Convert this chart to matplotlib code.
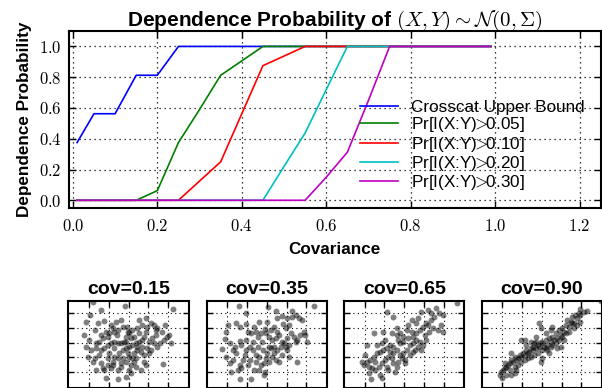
import matplotlib
matplotlib.use("Agg")
import matplotlib.pyplot as plt
from matplotlib.ticker import FuncFormatter, FixedLocator

plt.rcParams['font.family'] = ['Liberation Sans', 'DejaVu Sans']
plt.rcParams['mathtext.fontset'] = 'cm'

# ---------------- main chart data ----------------
covariance = [0.01, 0.05, 0.10, 0.15, 0.20, 0.25, 0.30, 0.35, 0.40, 0.45, 0.50,
              0.55, 0.60, 0.65, 0.70, 0.75, 0.80, 0.85, 0.90, 0.95, 0.99]
upper_bound = [0.375, 0.5625, 0.5625, 0.8125, 0.8125, 1, 1, 1, 1, 1, 1,
               1, 1, 1, 1, 1, 1, 1, 1, 1, 1]
pr_005 = [0, 0, 0, 0, 0.0625, 0.375, 0.59, 0.8125, 0.906, 1, 1,
          1, 1, 1, 1, 1, 1, 1, 1, 1, 1]
pr_010 = [0, 0, 0, 0, 0, 0, 0.125, 0.25, 0.5625, 0.875, 0.9375,
          1, 1, 1, 1, 1, 1, 1, 1, 1, 1]
pr_020 = [0, 0, 0, 0, 0, 0, 0, 0, 0, 0, 0.22,
          0.4375, 0.72, 1, 1, 1, 1, 1, 1, 1, 1]
pr_030 = [0, 0, 0, 0, 0, 0, 0, 0, 0, 0, 0,
          0, 0.15, 0.3125, 0.65, 1, 1, 1, 1, 1, 1]
series_labels = ['Crosscat Upper Bound', r'Pr[I(X:Y)$\!\!>\!\!$0.05]', r'Pr[I(X:Y)$\!\!>\!\!$0.10]',
                 r'Pr[I(X:Y)$\!\!>\!\!$0.20]', r'Pr[I(X:Y)$\!\!>\!\!$0.30]']
series_colors = ['#0000ff', '#008000', '#ff0000', '#00bfbf', '#bf00bf']
x_ticks = [0.0, 0.2, 0.4, 0.6, 0.8, 1.0, 1.2]
y_ticks = [0.0, 0.2, 0.4, 0.6, 0.8, 1.0]

# ---------------- scatter samples ----------------
panel_titles = ['cov=0.15', 'cov=0.35', 'cov=0.65', 'cov=0.90']

p1 = [(-1.80,2.77),(-0.17,2.50),(-1.38,2.20),(2.25,2.27),(-2.25,0.51),(-2.13,1.41),
      (-1.97,1.86),(-1.52,1.30),(-1.22,1.48),(-1.72,0.85),(-2.02,0.17),(-1.88,-0.51),
      (-1.63,-0.06),(-1.47,0.06),(-1.38,0.51),(-1.13,0.73),(-0.97,0.62),(-0.80,0.96),
      (-0.72,0.73),(-0.55,0.85),(-0.58,0.51),(-0.30,1.07),(-0.08,1.03),(-0.05,0.73),
      (0.03,0.62),(-0.13,0.40),(-0.22,0.06),(-0.38,-0.06),(-0.55,-0.06),(-0.72,0.06),
      (-0.88,-0.06),(-1.05,-0.17),(-1.22,-0.40),(-1.38,-0.51),(-1.47,-0.85),(-1.72,-1.07),
      (-1.38,-1.41),(-1.30,-1.75),(-1.63,-1.86),(-1.22,-1.86),(-1.05,-1.53),(-0.88,-1.75),
      (-0.80,-1.30),(-0.72,-0.96),(-0.55,-1.07),(-0.47,-0.73),(-0.30,-0.51),(-0.13,-0.40),
      (0.03,-0.28),(0.20,-0.17),(0.37,-0.06),(0.53,0.06),(0.70,0.17),(0.78,0.40),
      (0.87,0.73),(0.95,1.07),(1.12,1.30),(1.28,1.19),(1.37,0.85),(1.45,0.96),
      (1.70,0.73),(1.87,1.19),(1.95,0.40),(2.03,0.51),(1.78,0.17),(2.15,-0.06),
      (1.37,0.51),(1.20,0.28),(1.03,0.06),(0.95,-0.40),(1.12,-0.51),(1.03,-0.73),
      (0.78,-0.85),(0.62,-0.62),(0.45,-0.51),(0.28,-0.73),(0.20,-1.07),(0.28,-1.30),
      (0.12,-1.53),(0.03,-1.86),(0.12,-2.09),(-0.13,-1.30),(-0.30,-1.07),(-0.38,-1.41),
      (-0.55,-1.86),(-1.13,-2.43),(-0.55,-2.47),(0.37,-1.07),(0.45,-0.28),(0.70,-0.28),
      (0.78,-1.30),(0.87,-1.53),(1.75,-1.46),(1.45,-0.28),(1.62,-0.06),(1.28,-0.06),
      (0.53,0.62),(0.28,0.40),(0.12,0.28),(0.20,0.85),(0.45,0.96),(0.70,1.19),
      (0.53,1.53),(0.87,1.64),(-0.38,1.53),(-0.63,1.41),(-0.88,1.19),(-1.05,0.40),
      (-1.30,0.28),(-1.63,-0.40),(-1.80,-1.30),(-2.05,-0.96),(-2.13,-0.28),(-0.13,-2.32),
      (-0.38,-1.64),(-0.72,-0.40),(-0.97,-0.73),(-1.05,-1.07),(-0.80,-1.53),(-0.05,-0.73),
      (0.03,-0.96),(-0.13,0.06),(0.37,-1.64),(0.62,-1.86)]

p2 = [(-1.43,2.50),(0.07,2.43),(2.37,2.47),(-1.08,2.02),(0.45,2.16),(1.25,2.16),
      (-1.97,1.19),(-1.55,1.34),(-1.38,1.07),(-1.05,1.25),(-0.42,1.37),(0.03,1.41),
      (0.53,1.64),(0.75,1.80),(1.03,1.64),(1.28,1.75),(1.45,1.86),(1.62,1.64),
      (1.78,1.53),(1.12,1.19),(0.95,0.96),(0.82,1.25),(1.87,0.73),(1.95,0.51),
      (1.67,0.51),(2.03,0.06),(1.53,0.17),(-2.13,0.21),(-2.25,-0.46),(-1.88,-0.06),
      (-1.72,-0.51),(-1.63,-0.28),(-1.38,0.12),(-1.30,-0.17),(-0.97,0.73),(-0.80,0.62),
      (-0.55,0.73),(-0.47,0.40),(-0.30,0.62),(-0.08,0.89),(-0.05,0.62),(0.12,0.40),
      (0.28,0.17),(0.45,0.28),(0.62,0.51),(0.78,0.06),(0.95,-0.28),(1.03,-0.51),
      (1.12,-0.17),(0.70,-0.28),(0.53,-0.51),(0.37,-0.28),(0.20,-0.40),(0.03,-0.73),
      (-0.05,-1.07),(0.12,-1.30),(-0.13,-1.41),(-0.30,-1.53),(-0.38,-0.96),(-0.55,-0.85),
      (-0.72,-0.51),(-0.88,-0.28),(-1.05,-0.51),(-1.13,-0.85),(-1.22,-1.19),(-1.38,-1.53),
      (-1.47,-1.86),(-1.30,-1.75),(-1.80,-1.98),(-1.72,-1.19),(-2.05,-0.96),(-1.38,-2.50),
      (-0.80,-2.47),(-0.63,-1.86),(-0.97,-1.53),(-0.88,-1.19),(-0.55,-1.30),(-0.08,-1.98),
      (-0.13,-2.20),(0.28,-0.96),(0.45,-1.19),(0.62,-1.30),(1.53,-1.30),(1.12,-0.96),
      (0.87,-0.06),(1.37,0.40),(1.45,0.06),(0.20,0.85),(0.37,1.07),(0.53,0.73),
      (-0.25,0.06),(-0.47,-0.28),(-0.72,0.06),(-1.05,0.17),(-1.55,-0.73),(-1.88,-1.41),
      (-0.38,-1.86),(0.12,-0.28),(0.37,-0.73),(-0.22,-0.51),(-0.63,1.07),(-2.05,0.73),
      (0.78,-0.85),(1.03,0.28),(1.20,0.62)]

p3 = [(2.70,2.70),(-0.88,2.09),(-0.58,1.71),(0.87,2.09),(1.20,2.20),(1.62,2.32),
      (1.78,1.98),(1.95,1.86),(1.53,1.75),(1.37,1.53),(1.08,1.34),(0.95,1.07),
      (1.20,1.19),(1.87,1.19),(1.95,0.73),(1.70,0.85),(1.45,0.96),(0.58,1.34),
      (0.37,0.73),(0.12,0.85),(-0.05,0.40),(-0.22,0.62),(-0.38,0.51),(-0.30,0.17),
      (-0.05,0.06),(0.20,0.28),(0.45,0.40),(0.62,0.17),(0.78,0.06),(0.95,-0.17),
      (0.70,-0.28),(0.45,-0.06),(0.28,-0.17),(0.12,-0.51),(-0.05,-0.73),(-0.13,-1.07),
      (0.03,-1.19),(-0.22,-0.85),(-0.38,-0.51),(-0.55,-0.28),(-0.72,-0.17),(-0.88,-0.40),
      (-1.05,-0.51),(-1.22,-0.62),(-1.38,-0.73),(-1.55,-0.96),(-1.72,-1.19),(-1.88,-1.30),
      (-2.05,-1.53),(-1.80,-1.64),(-1.63,-1.75),(-1.47,-1.86),(-1.30,-1.64),(-1.13,-1.41),
      (-0.97,-1.19),(-0.80,-0.96),(-0.63,-1.07),(-0.55,-1.41),(-0.38,-1.64),(-0.47,-1.98),
      (-1.55,0.62),(-1.88,-0.17),(-1.05,0.73),(-0.97,0.17),(-0.63,0.62),(0.53,-0.51),
      (1.03,0.51),(1.12,0.17),(0.87,-0.51),(0.28,-0.85),(0.03,-1.41),(-1.22,-2.20),
      (-1.80,-2.09),(-1.13,-2.43),(-1.68,-2.47),(-2.13,-1.30),(-1.97,-0.85),(-1.47,-1.30),
      (-0.88,-1.64),(-0.80,-1.86),(-0.30,-1.30),(0.45,-0.62),(1.28,0.73),(0.62,0.62),
      (0.78,0.85),(-0.72,-0.62),(-0.55,-0.73),(-0.22,-0.06),(0.20,1.19),(0.37,1.53),
      (0.70,1.64),(1.37,1.98),(-0.38,0.96),(-1.38,-0.17),(-1.13,-0.06)]

p4 = [(2.28,2.16),(1.95,2.25),(1.87,1.98),(1.70,1.86),(1.78,1.64),(1.53,1.75),
      (1.45,1.41),(1.62,1.30),(1.28,1.53),(1.20,1.19),(1.37,1.07),(1.03,0.96),
      (1.12,0.73),(0.87,0.85),(0.95,0.51),(0.70,0.62),(0.78,0.28),(0.53,0.40),
      (0.62,0.17),(0.37,0.28),(0.45,0.06),(0.20,0.17),(0.28,-0.17),(0.03,-0.06),
      (0.12,-0.28),(-0.05,0.06),(-0.13,-0.28),(-0.22,-0.17),(-0.30,-0.40),(-0.38,-0.06),
      (-0.47,-0.51),(-0.55,-0.40),(-0.63,-0.62),(-0.72,-0.73),(-0.80,-0.51),(-0.88,-0.85),
      (-0.97,-0.73),(-1.05,-0.96),(-1.13,-0.85),(-1.22,-1.07),(-1.30,-1.19),(-1.38,-0.96),
      (-1.47,-1.30),(-1.55,-1.19),(-1.63,-1.41),(-1.72,-1.53),(-1.80,-1.64),(-1.88,-1.75),
      (-1.97,-1.86),(-2.05,-1.98),(-2.13,-2.20),(-2.02,-2.43),(-1.80,-2.20),(-1.55,-2.20),
      (-1.63,-1.86),(-1.38,-1.64),(-1.22,-1.53),(-1.05,-1.30),(-0.88,-1.19),(-0.72,-1.07),
      (-0.55,-0.96),(-0.38,-0.85),(-0.22,-0.73),(0.03,-0.51),(0.28,-0.51),(0.53,-0.17),
      (0.70,-0.06),(0.87,0.17),(1.03,0.40),(1.20,0.62),(1.37,0.73),(1.62,0.96),
      (1.78,1.19),(1.95,1.41),(-0.13,1.30),(-0.05,0.96),(-1.05,0.17),(-0.88,0.17),
      (-1.88,-1.41),(-1.55,-0.73),(-0.05,-1.30),(0.03,-1.07),(-0.30,0.40),(0.20,0.62),
      (0.78,-0.40),(0.95,-0.28),(0.45,0.85),(0.53,1.07),(-0.80,-0.17),(-0.55,0.06),
      (0.37,-0.73),(1.12,0.17),(1.53,1.30),(1.95,1.86),(2.12,2.09),(-1.38,-2.09),
      (-1.30,-1.86),(-0.47,-0.28),(-0.30,0.06),(0.20,-0.40),(0.45,-0.28),(2.98,2.80)]

panels = [p1, p2, p3, p4]
panel_ticks = [-2, -1, 0, 1, 2]

# ---------------- figure ----------------
fig = plt.figure(figsize=(6.02, 3.88), dpi=100)

ax = fig.add_axes([0.114, 0.464, 0.884, 0.456])
series = [upper_bound, pr_005, pr_010, pr_020, pr_030]
for vals, lab, col in zip(series, series_labels, series_colors):
    ax.plot(covariance, vals, color=col, lw=1.2, label=lab)

ax.set_xlim(-0.01, 1.25)
ax.set_ylim(-0.05, 1.1)
ax.xaxis.set_major_locator(FixedLocator(x_ticks))
ax.yaxis.set_major_locator(FixedLocator(y_ticks))
fmt = FuncFormatter(lambda v, p: r'$%.1f$' % v)
ax.xaxis.set_major_formatter(fmt)
ax.yaxis.set_major_formatter(fmt)
ax.tick_params(direction='in', top=True, right=True, length=5, width=1,
               labelsize=12)
ax.tick_params(axis='x', pad=7)
ax.tick_params(axis='y', pad=5)
ax.grid(True, linestyle=(0, (1, 3)), color='black', linewidth=0.9)
for s in ax.spines.values():
    s.set_linewidth(1.5)
ax.set_xlabel('Covariance', fontweight='bold', fontsize=12.3, labelpad=6)
ax.set_ylabel('Dependence Probability', fontweight='bold', fontsize=12.3, labelpad=5)
ax.set_title(r'Dependence Probability of $(X,Y) \sim \mathcal{N}(0,\Sigma)$',
             fontweight='bold', fontsize=15, pad=4)
leg = ax.legend(loc='upper left', bbox_to_anchor=(360 / 602, 1 - 100 / 388),
                bbox_transform=fig.transFigure, frameon=False, fontsize=12.3,
                borderpad=0, borderaxespad=0, labelspacing=0.02,
                handlelength=2.25, handletextpad=0.75)

lefts = [68.3 / 602, 206.7 / 602, 344 / 602, 481.7 / 602]
for left, pts, title in zip(lefts, panels, panel_titles):
    sax = fig.add_axes([left, 0.001, 0.200, 0.224])
    xs = [p[0] for p in pts]
    ys = [p[1] for p in pts]
    sax.scatter(xs, ys, s=18, c='black', alpha=0.5, linewidths=0)
    sax.set_xlim(-3.05, 3.05)
    sax.set_ylim(-3.06, 2.84)
    sax.xaxis.set_major_locator(FixedLocator(panel_ticks))
    sax.yaxis.set_major_locator(FixedLocator(panel_ticks))
    sax.tick_params(direction='in', top=True, right=True, length=4, width=1,
                    labelbottom=False, labelleft=False)
    sax.grid(True, linestyle=(0, (1, 3)), color='black', linewidth=0.8)
    for s in sax.spines.values():
        s.set_linewidth(1.5)
    sax.set_title(title, fontweight='bold', fontsize=14, pad=5)

fig.savefig('out.png', dpi=100)
